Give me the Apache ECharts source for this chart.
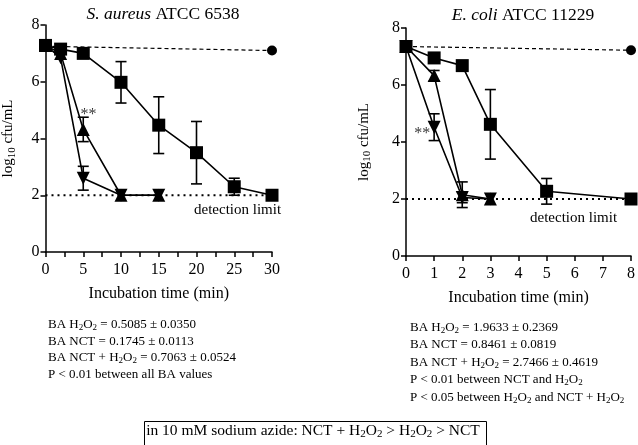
<!DOCTYPE html>
<html><head><meta charset="utf-8">
<script src="https://cdn.jsdelivr.net/npm/echarts@6/dist/echarts.min.js"></script>
<style>html,body{margin:0;padding:0;background:#fff}#c{width:638px;height:445px}</style>
</head><body><div id="c"></div>
<script>
// ---- S. aureus ATCC 6538 ----
const timeSA = [0, 2, 5, 10, 15, 20, 25, 30];
const nctSA = [7.28, 7.15, 7.0, 5.98, 4.47, 3.5, 2.3, 2.0];
const nctSAErr = [0, 0, 0, 0.73, 1.0, 1.1, 0.3, 0];
const timeSAshort = [0, 2, 5, 10, 15];
const h2o2SA = [7.28, 7.0, 4.32, 2.0, 2.0];
const h2o2SAErr = [0, 0, 0.43, 0, 0];
const comboSA = [7.28, 6.85, 2.6, 2.0, 2.0];
const comboSAErr = [0, 0, 0.42, 0, 0];
const ctrlTimeSA = [0, 30];
const ctrlSA = [7.25, 7.1];
const starSA = [5.7, 4.85];
const xTicksSA = { min: 0, max: 30, step: 5 };

// ---- E. coli ATCC 11229 ----
const timeEC = [0, 1, 2, 3, 5, 8];
const nctEC = [7.35, 6.95, 6.68, 4.62, 2.27, 2.0];
const nctECErr = [0, 0, 0, 1.22, 0.45, 0];
const timeECshort = [0, 1, 2, 3];
const h2o2EC = [7.35, 6.33, 2.15, 2.0];
const h2o2ECErr = [0, 0.18, 0.45, 0];
const comboEC = [7.35, 4.52, 2.05, 2.0];
const comboECErr = [0, 0.47, 0.18, 0];
const ctrlTimeEC = [0, 8];
const ctrlEC = [7.35, 7.22];
const starEC = [0.58, 4.3];
const xTicksEC = { min: 0, max: 8, step: 1 };

const detectionLimit = 2;
const yTicks = { min: 0, max: 8, step: 2 };

const titleSA = ['S. aureus', ' ATCC 6538'];
const titleEC = ['E. coli', ' ATCC 11229'];
const xName = 'Incubation time (min)';
const statsSA = [
  'BA H2O2 = 0.5085 ± 0.0350',
  'BA NCT = 0.1745 ± 0.0113',
  'BA NCT + H2O2 = 0.7063 ± 0.0524',
  'P < 0.01 between all BA values'
];
const statsEC = [
  'BA H2O2 = 1.9633 ± 0.2369',
  'BA NCT = 0.8461 ± 0.0819',
  'BA NCT + H2O2 = 2.7466 ± 0.4619',
  'P < 0.01 between NCT and H2O2',
  'P < 0.05 between H2O2 and NCT + H2O2'
];
const boxText = 'in 10 mM sodium azide: NCT + H2O2 > H2O2 > NCT';
const detText = 'detection limit';

const FONT = 'Liberation Serif';
const BLACK = '#000';

function sub(s) { return s.replace(/H2O2/g, 'H{s|2}O{s|2}'); }
const richSub = (fs) => ({ s: { fontSize: Math.round(fs * 0.7), fontFamily: FONT, color: BLACK, padding: [Math.round(fs * 0.45), 0, 0, 0] } });

function pairs(xs, ys) { return xs.map((x, i) => [x, ys[i]]); }
function errData(xs, ys, es) { return xs.map((x, i) => [x, ys[i], es[i]]).filter(d => d[2] > 0); }

function errRender(params, api) {
  const x = api.value(0), y = api.value(1), e = api.value(2);
  const t = api.coord([x, y + e]);
  const b = api.coord([x, y - e]);
  const hw = 5.5;
  const st = { stroke: BLACK, lineWidth: 1.6 };
  return { type: 'group', children: [
    { type: 'line', shape: { x1: t[0], y1: t[1], x2: b[0], y2: b[1] }, style: st },
    { type: 'line', shape: { x1: t[0] - hw, y1: t[1], x2: t[0] + hw, y2: t[1] }, style: st },
    { type: 'line', shape: { x1: b[0] - hw, y1: b[1], x2: b[0] + hw, y2: b[1] }, style: st }
  ]};
}

function makeSeries(idx, d) {
  const base = { xAxisIndex: idx, yAxisIndex: idx, animation: false, silent: true };
  const lineBase = Object.assign({}, base, { type: 'line', lineStyle: { color: BLACK, width: 1.6 }, itemStyle: { color: BLACK } });
  return [
    Object.assign({}, base, { type: 'line', name: 'limit' + idx, data: pairs([d.xr.min, d.xr.max], [detectionLimit, detectionLimit]), symbol: 'none', lineStyle: { color: BLACK, width: 2, type: [2, 4] }, z: 1 }),
    Object.assign({}, base, { type: 'line', name: 'ctrl' + idx, data: pairs(d.ctrlT, d.ctrl).map((p, i) => ({ value: p, symbol: i === 0 ? 'none' : 'circle' })), symbolSize: 10, lineStyle: { color: BLACK, width: 1.2, type: [4, 3] }, itemStyle: { color: BLACK }, z: 2 }),
    Object.assign({}, base, { type: 'custom', name: 'err' + idx, renderItem: errRender, data: errData(d.t, d.nct, d.nctE).concat(errData(d.ts, d.h2o2, d.h2o2E), errData(d.ts, d.combo, d.comboE)), z: 3 }),
    Object.assign({}, lineBase, { name: 'NCT' + idx, data: pairs(d.t, d.nct), symbol: 'rect', symbolSize: 13, z: 4 }),
    Object.assign({}, lineBase, { name: 'H2O2' + idx, data: pairs(d.ts, d.h2o2), symbol: 'triangle', symbolSize: 13, z: 5 }),
    Object.assign({}, lineBase, { name: 'combo' + idx, data: pairs(d.ts, d.combo), symbol: 'triangle', symbolRotate: 180, symbolSize: 13, z: 5 }),
    Object.assign({}, base, { type: 'scatter', name: 'star' + idx, data: [d.star], symbolSize: 1, itemStyle: { color: 'rgba(0,0,0,0)' }, label: { show: true, position: 'inside', formatter: '**', fontFamily: FONT, fontSize: 16, color: BLACK }, z: 6 })
  ];
}

function yAxis(idx, gap) {
  return {
    type: 'value', gridIndex: idx, min: yTicks.min, max: yTicks.max, interval: yTicks.step,
    axisLine: { show: true, lineStyle: { color: BLACK, width: 1.5 } },
    axisTick: { show: true, length: 5, lineStyle: { color: BLACK, width: 1.5 } },
    axisLabel: { fontFamily: FONT, fontSize: 16, color: BLACK, margin: 6 },
    splitLine: { show: false },
    name: '{n|log}{s|10}{n| cfu/mL}', nameLocation: 'middle', nameGap: gap, nameRotate: 90,
    nameTextStyle: { fontFamily: FONT, fontSize: 15, color: BLACK, rich: Object.assign({ n: { fontFamily: FONT, fontSize: 15, color: BLACK } }, richSub(15)) }
  };
}
function xAxis(idx, r, minor) {
  return {
    type: 'value', gridIndex: idx, min: r.min, max: r.max, interval: r.step,
    axisLine: { show: true, lineStyle: { color: BLACK, width: 1.5 } },
    axisTick: { show: true, length: 5, lineStyle: { color: BLACK, width: 1.5 } },
    minorTick: { show: minor, splitNumber: 2, length: 5, lineStyle: { color: BLACK, width: 1.5 } },
    axisLabel: { fontFamily: FONT, fontSize: 16, color: BLACK, margin: 10 },
    splitLine: { show: false },
    name: xName, nameLocation: 'middle', nameGap: 34,
    nameTextStyle: { fontFamily: FONT, fontSize: 16, color: BLACK }
  };
}

function statsGraphic(lines, x, y0, dy) {
  return lines.map((s, i) => ({
    type: 'text', left: x, top: y0 + i * dy, silent: true,
    style: { text: sub(s), fontFamily: FONT, fontSize: 13, fill: BLACK, rich: richSub(13) }
  }));
}

const option = {
  animation: false,
  backgroundColor: '#fff',
  title: [
    { text: '{i|' + titleSA[0] + '}' + titleSA[1], left: 158, top: 0, textAlign: 'center',
      textStyle: { fontFamily: FONT, fontSize: 17.5, fontWeight: 'normal', color: BLACK, rich: { i: { fontFamily: FONT, fontSize: 17.5, fontStyle: 'italic', color: BLACK } } } },
    { text: '{i|' + titleEC[0] + '}' + titleEC[1], left: 518, top: 1, textAlign: 'center',
      textStyle: { fontFamily: FONT, fontSize: 17.5, fontWeight: 'normal', color: BLACK, rich: { i: { fontFamily: FONT, fontSize: 17.5, fontStyle: 'italic', color: BLACK } } } }
  ],
  grid: [
    { left: 44, top: 25, width: 228, height: 227 },
    { left: 406, top: 28, width: 226, height: 228 }
  ],
  xAxis: [xAxis(0, xTicksSA, true), xAxis(1, xTicksEC, false)],
  yAxis: [yAxis(0, 28), yAxis(1, 33)],
  series: [].concat(
    makeSeries(0, { xr: xTicksSA, t: timeSA, nct: nctSA, nctE: nctSAErr, ts: timeSAshort, h2o2: h2o2SA, h2o2E: h2o2SAErr, combo: comboSA, comboE: comboSAErr, ctrlT: ctrlTimeSA, ctrl: ctrlSA, star: starSA }),
    makeSeries(1, { xr: xTicksEC, t: timeEC, nct: nctEC, nctE: nctECErr, ts: timeECshort, h2o2: h2o2EC, h2o2E: h2o2ECErr, combo: comboEC, comboE: comboECErr, ctrlT: ctrlTimeEC, ctrl: ctrlEC, star: starEC })
  ),
  graphic: [].concat(
    statsGraphic(statsSA, 48, 318, 16.7),
    statsGraphic(statsEC, 410, 321, 17.5),
    [
      { type: 'text', left: 194, top: 203, silent: true, style: { text: detText, fontFamily: FONT, fontSize: 15, fill: BLACK } },
      { type: 'text', left: 530, top: 211, silent: true, style: { text: detText, fontFamily: FONT, fontSize: 15, fill: BLACK } },
      { type: 'rect', left: 142, top: 419, silent: true, shape: { width: 342, height: 24 }, style: { fill: 'none', stroke: BLACK, lineWidth: 1 } },
      { type: 'text', x: 313, y: 431, silent: true, style: { text: sub(boxText), fontFamily: FONT, fontSize: 15.5, fill: BLACK, align: 'center', verticalAlign: 'middle', rich: richSub(15.5) } }
    ]
  )
};

const chart = echarts.init(document.getElementById('c'), null, { renderer: 'canvas' });
chart.setOption(option);
</script>
</body></html>
